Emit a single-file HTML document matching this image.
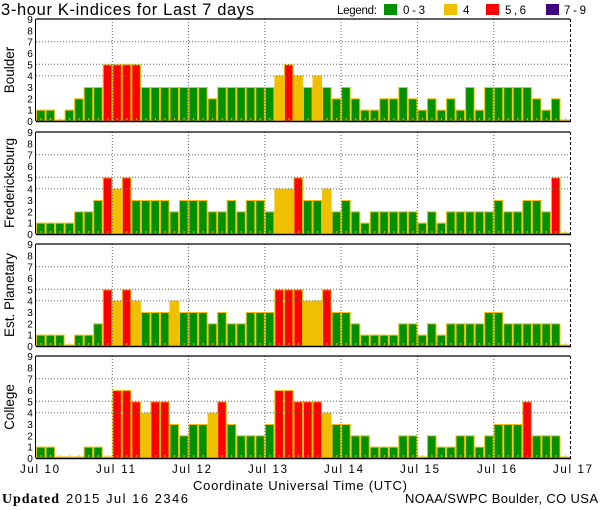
<!DOCTYPE html>
<html><head><meta charset="utf-8"><style>
html,body{margin:0;padding:0;background:#fff;width:600px;height:510px;overflow:hidden}
svg{display:block;font-family:"Liberation Sans",sans-serif}
</style></head><body>
<svg id="s" width="600" height="510" xmlns="http://www.w3.org/2000/svg">
<text x="1" y="15" font-size="16.5" fill="#000" textLength="253" lengthAdjust="spacing">3-hour K-indices for Last 7 days</text>
<text x="337" y="14" font-size="11.5" textLength="40">Legend:</text>
<rect x="384" y="4" width="13" height="11" fill="#009000"/><text x="403" y="14" font-size="11.5" textLength="22">0-3</text>
<rect x="444" y="4" width="13" height="11" fill="#f0c000"/><text x="463" y="14" font-size="11.5">4</text>
<rect x="486" y="4" width="13" height="11" fill="#ff0000"/><text x="505" y="14" font-size="11.5" textLength="21">5,6</text>
<rect x="546" y="4" width="13" height="11" fill="#400080"/><text x="564" y="14" font-size="11.5" textLength="22">7-9</text>
<g id="g"></g>
<g font-size="11.5">
<text x="20" y="473" textLength="39">Jul 10</text><text x="96" y="473" textLength="39">Jul 11</text><text x="172" y="473" textLength="39">Jul 12</text><text x="248" y="473" textLength="39">Jul 13</text>
<text x="324" y="473" textLength="39">Jul 14</text><text x="400" y="473" textLength="39">Jul 15</text><text x="477" y="473" textLength="39">Jul 16</text><text x="553" y="473" textLength="39">Jul 17</text>
</g>
<text x="193" y="490" font-size="13" textLength="214">Coordinate Universal Time (UTC)</text>
<text x="2" y="503" font-size="14" font-family="Liberation Serif,serif" font-weight="bold" textLength="57">Updated</text>
<text x="66" y="503" font-size="13" textLength="122">2015 Jul 16 2346</text>
<text x="405" y="503" font-size="13" textLength="193">NOAA/SWPC Boulder, CO USA</text>
</svg>
<script>
var data=[
["Boulder",19,[1,1,0,1,2,3,3,5,5,5,5,3,3,3,3,3,3,3,2,3,3,3,3,3,3,4,5,4,3,4,3,2,3,2,1,1,2,2,3,2,1,2,1,2,1,3,1,3,3,3,3,3,2,1,2,0]],
["Fredericksburg",132,[1,1,1,1,2,2,3,5,4,5,3,3,3,3,2,3,3,3,2,2,3,2,3,3,2,4,4,5,3,3,4,2,3,2,1,2,2,2,2,2,1,2,1,2,2,2,2,2,3,2,2,3,3,2,5,0]],
["Est. Planetary",244,[1,1,1,0,1,1,2,5,4,5,4,3,3,3,4,3,3,3,2,3,2,2,3,3,3,5,5,5,4,4,5,3,3,2,1,1,1,1,2,2,1,2,1,2,2,2,2,3,3,2,2,2,2,2,2,0]],
["College",356,[1,1,0,0,0,1,1,0,6,6,5,4,5,5,3,2,3,3,4,5,3,2,2,2,3,6,6,5,5,5,4,3,3,2,2,1,1,1,2,2,0,2,1,1,2,2,1,2,3,3,3,5,2,2,2,0]]];
var L=36,R=570,H=102,u=H/9,bw=(R-L)/56,s="";
data.forEach(function(p){
 var t=p[1],b=t+H;
 p[2].forEach(function(v,i){
  var x=L+i*bw,h=v==0?1.5:v*u,c=v<=3?"#009000":v==4?"#f0c000":v<=6?"#ff0000":"#400080";
  s+='<rect x="'+(x+0.5).toFixed(2)+'" y="'+(b-h+0.5).toFixed(2)+'" width="'+(bw-1).toFixed(2)+'" height="'+(h-0.5).toFixed(2)+'" fill="'+c+'" stroke="#f0c000" stroke-width="1"/>';
  s+='<rect x="'+(x+4.5).toFixed(2)+'" y="'+(b-3)+'" width="1" height="2" fill="#f0c000"/>';
 });
 [4,5,7].forEach(function(k){var y=(b-k*u).toFixed(1);s+='<line x1="'+L+'" x2="'+R+'" y1="'+y+'" y2="'+y+'" stroke="#666" stroke-dasharray="1,2"/>';});
 for(var d=1;d<7;d++){var x=(L+d*bw*8).toFixed(1);s+='<line x1="'+x+'" x2="'+x+'" y1="'+t+'" y2="'+b+'" stroke="#666" stroke-dasharray="1,2"/>';}
 s+='<line x1="'+L+'" x2="'+R+'" y1="'+t+'" y2="'+t+'" stroke="#000" stroke-width="1.2"/>';
 s+='<line x1="'+L+'" x2="'+(R+1)+'" y1="'+(b+0.5)+'" y2="'+(b+0.5)+'" stroke="#000" stroke-width="1.5"/>';
 s+='<line x1="'+(L-0.5)+'" x2="'+(L-0.5)+'" y1="'+t+'" y2="'+b+'" stroke="#000"/>';
 s+='<line x1="'+(R+0.5)+'" x2="'+(R+0.5)+'" y1="'+t+'" y2="'+b+'" stroke="#000" stroke-dasharray="3,2"/>';
 for(var k=0;k<=9;k++){s+='<text x="30" y="'+(b-k*u+4).toFixed(1)+'" font-size="10" text-anchor="middle">'+k+'</text>';}
 var cy=t+H/2;
 s+='<text transform="translate(14,'+cy+') rotate(-90)" font-size="13.5" text-anchor="middle">'+p[0]+'</text>';
});
document.getElementById("g").innerHTML=s;
</script>
</body></html>
